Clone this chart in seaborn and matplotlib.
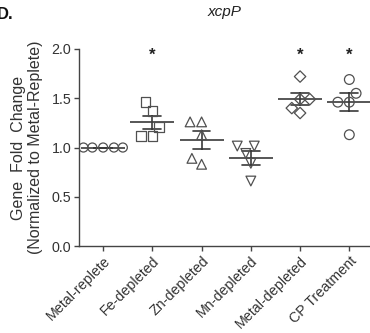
import matplotlib
matplotlib.use("Agg")
import matplotlib.pyplot as plt
import numpy as np
import pandas as pd
import seaborn as sns

# data
conditions = ["Metal-replete", "Fe-depleted", "Zn-depleted", "Mn-depleted",
              "Metal-depleted", "CP Treatment"]
metal_replete = [1.0, 1.0, 1.0, 1.0, 1.0]
fe_depleted = [1.46, 1.37, 1.21, 1.12, 1.12]
zn_depleted = [1.26, 1.26, 1.13, 0.83, 0.89]
mn_depleted = [1.015, 1.015, 0.94, 0.84, 0.66]
metal_depleted = [1.72, 1.49, 1.49, 1.40, 1.35]
cp_treatment = [1.69, 1.55, 1.46, 1.46, 1.13]
significant = [False, True, False, False, True, True]
markers = ["o", "s", "^", "v", "D", "o"]
marker_sizes = [6.5, 7.0, 7.0, 7.0, 5.8, 7.0]

values = [metal_replete, fe_depleted, zn_depleted, mn_depleted,
          metal_depleted, cp_treatment]
df = pd.DataFrame(
    [(c, v) for c, vals in zip(conditions, values) for v in vals],
    columns=["condition", "fold"],
)

sns.set_theme(style="ticks")
plt.rcParams["font.family"] = ["Liberation Sans", "DejaVu Sans"]

ink = "#505050"
fig = plt.figure(figsize=(3.7, 3.33), dpi=100)
ax = fig.add_axes([0.2135, 0.261, 0.7865, 0.592])

for cond, m, ms in zip(conditions, markers, marker_sizes):
    sub = df[df["condition"] == cond]
    sns.swarmplot(data=sub, x="condition", y="fold", order=conditions,
                  marker=m, size=ms, color=ink, ax=ax)
for coll in ax.collections:
    coll.set_facecolor("none")
    coll.set_edgecolor(ink)
    coll.set_linewidth(0.9)

sns.pointplot(data=df, x="condition", y="fold", order=conditions,
              errorbar="se", capsize=0.36, color="#3a3a3a", markers="_",
              markersize=31, markeredgewidth=1.2, linestyle="none",
              err_kws={"linewidth": 1.2}, ax=ax)

star_y = 1.94
for i, s in enumerate(significant):
    if s:
        ax.text(i, star_y, "*", ha="center", va="center", fontsize=12,
                fontweight="bold", color="#222222")

ax.set_ylim(0, 2.0)
ax.set_xlim(-0.49, 5.42)
ax.set_yticks([0.0, 0.5, 1.0, 1.5, 2.0])
ax.set_yticklabels([f"{t:.1f}" for t in [0.0, 0.5, 1.0, 1.5, 2.0]])
ax.set_xlabel("")
ax.set_ylabel("Gene  Fold  Change\n(Normalized to Metal-Replete)",
              fontsize=11.5, color="#333333", labelpad=6, linespacing=1.2)
ax.set_title("xcpP", fontstyle="italic", fontsize=11, color="#222222", pad=24)
plt.setp(ax.get_xticklabels(), rotation=45, ha="right",
         rotation_mode="anchor", fontsize=10.3, color="#333333")
plt.setp(ax.get_yticklabels(), fontsize=10.3, color="#333333")
ax.tick_params(axis="both", length=3.5, width=1.0, color="#444444", pad=2)
for side in ["top", "right"]:
    ax.spines[side].set_visible(False)
for side in ["left", "bottom"]:
    ax.spines[side].set_color("#444444")
    ax.spines[side].set_linewidth(1.0)

fig.text(0.036, 0.955, "D.", ha="right", va="center", fontsize=12,
         fontweight="bold", color="#111111")

fig.savefig("out.png", dpi=100)
plt.close(fig)
